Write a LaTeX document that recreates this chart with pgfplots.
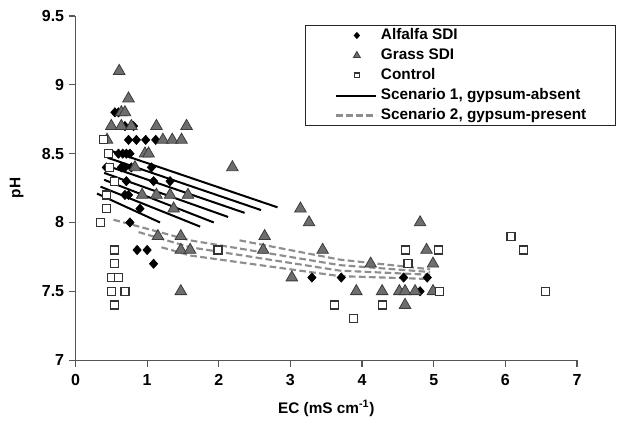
\documentclass[border=0pt]{standalone}
\usepackage{fontspec}
\setmainfont{Liberation Sans}
\usepackage{pgfplots}
\pgfplotsset{compat=1.18}
\definecolor{axgray}{HTML}{555555}
\definecolor{trifill}{HTML}{6E6E6E}
\definecolor{tridraw}{HTML}{3C3C3C}
\definecolor{sqdraw}{HTML}{333333}
\definecolor{dashgray}{HTML}{8E8E8E}
\newcommand{\lbl}{\fontsize{11.5}{13.5}\selectfont\bfseries}
\newcommand{\tkl}{\fontsize{12}{14}\selectfont\bfseries}
\pgfplotsset{
  legmark/.style={legend image code/.code={%
    \path[draw=none, fill=none] (0pt,-3pt) rectangle (33.75pt,3pt);
    \draw[##1, only marks, every mark/.append style={scale=0.6}] plot coordinates {(19.5pt,0pt)};}},
  legline/.style={legend image code/.code={%
    \path[draw=none, fill=none] (0pt,-3pt) rectangle (33.75pt,3pt);
    \draw[##1] (3.75pt,0pt) -- (33.75pt,0pt);}},
  scen1/.style={black, line width=1.5pt, no marks},
  scen2/.style={dashgray, line width=1.6pt, dash pattern=on 5pt off 2.5pt, no marks},
}

\begin{document}
\begin{tikzpicture}
\begin{axis}[name=ax, scale only axis, width=376pt, height=258pt,
  xmin=0, xmax=7, ymin=7, ymax=9.5,
  xtick={0,1,...,7}, ytick={7,7.5,...,9.5},
  axis x line*=bottom, axis y line*=left,
  axis line style={-, draw=axgray, line width=0.9pt},
  tick style={axgray, line width=0.9pt}, tick align=outside, major tick length=5pt,
  /pgf/number format/assume math mode=true,
  tick label style={font=\tkl},
  xticklabel style={yshift=-2pt},
  xlabel={EC (mS cm\textsuperscript{-1})}, ylabel={pH},
  label style={font=\lbl},
  xlabel style={at={(axis description cs:0.5,-0.1395)}, anchor=center},
  ylabel style={at={(axis description cs:-0.117,0.5)}, anchor=center},
  legend style={at={(0.4576,0.974)}, anchor=north west, draw=black!85, line width=0.8pt,
    font=\lbl, inner xsep=19pt, inner ysep=1pt, row sep=2pt,
    nodes={inner xsep=3pt, inner ysep=1pt, text height=8.5pt, text depth=2.5pt}},
  legend cell align=left,
  clip=false]
\addplot[only marks, mark=diamond*, mark size=3.5pt, mark options={black, fill=black, xscale=1.2}, legmark]
  coordinates {(0.55,8.80)(0.60,8.80)
  (0.69,8.70)(0.81,8.70)
  (0.74,8.60)(0.85,8.60)(0.98,8.60)(1.12,8.60)
  (0.60,8.50)(0.66,8.50)(0.71,8.50)(0.76,8.50)
  (0.43,8.40)(0.64,8.40)(0.69,8.40)(0.78,8.40)(1.06,8.40)
  (0.71,8.30)(1.09,8.30)(1.32,8.30)
  (0.69,8.20)(0.74,8.20)
  (0.90,8.10)
  (0.76,8.00)
  (0.86,7.80)(1.00,7.80)
  (1.09,7.70)
  (3.30,7.60)(3.71,7.60)(4.58,7.60)(4.91,7.60)
  (4.81,7.50)};
\addlegendentry{Alfalfa SDI}
\addplot[only marks, mark=triangle*, mark size=5pt, mark options={draw=tridraw, fill=trifill, line width=0.6pt}, legmark]
  coordinates {(0.61,9.10)
  (0.74,8.90)
  (0.64,8.80)(0.69,8.80)
  (0.50,8.70)(0.64,8.70)(0.78,8.70)(1.13,8.70)(1.55,8.70)
  (0.44,8.60)(1.22,8.60)(1.35,8.60)(1.48,8.60)
  (0.97,8.50)(1.02,8.50)
  (0.83,8.40)(2.19,8.40)
  (0.93,8.20)(1.13,8.20)(1.32,8.20)(1.57,8.20)
  (1.37,8.10)
  (1.15,7.90)(1.47,7.90)
  (1.47,7.80)(1.60,7.80)
  (1.47,7.50)
  (3.14,8.10)(3.26,8.00)
  (2.64,7.90)(2.62,7.80)(3.45,7.80)
  (3.02,7.60)
  (4.81,8.00)(4.90,7.80)(4.99,7.70)(4.12,7.70)
  (3.92,7.50)(4.28,7.50)(4.52,7.50)(4.60,7.50)(4.74,7.50)(4.99,7.50)
  (4.60,7.40)};
\addlegendentry{Grass SDI}
\addplot[only marks, mark=square*, mark size=3pt, mark options={draw=sqdraw, fill=white, line width=0.9pt}, legmark]
  coordinates {(0.39,8.60)(0.46,8.50)(0.48,8.40)(0.54,8.30)(0.43,8.20)(0.43,8.10)(0.35,8.00)
  (0.55,7.80)(0.55,7.70)(0.50,7.60)(0.60,7.60)(0.50,7.50)(0.69,7.50)(0.55,7.40)
  (1.99,7.80)
  (3.61,7.40)(3.88,7.30)(4.28,7.40)
  (4.61,7.80)(5.07,7.80)(4.64,7.70)(5.08,7.50)
  (6.08,7.90)(6.25,7.80)(6.56,7.50)};
\addlegendentry{Control}
% Scenario 1 (solid fan)
\addplot[scen1, legline] coordinates {(0.50,8.52) (2.82,8.11)};
\addlegendentry{Scenario 1, gypsum-absent}
\addplot[scen1, forget plot] coordinates {(0.45,8.47) (2.59,8.09)};
\addplot[scen1, forget plot] coordinates {(0.45,8.41) (2.36,8.07)};
\addplot[scen1, forget plot] coordinates {(0.40,8.36) (2.13,8.04)};
\addplot[scen1, forget plot] coordinates {(0.40,8.31) (1.93,8.00)};
\addplot[scen1, forget plot] coordinates {(0.35,8.26) (1.74,7.97)};
\addplot[scen1, forget plot] coordinates {(0.30,8.21) (1.18,8.00)};
% Scenario 2 (dashed)
\addplot[scen2, legline] coordinates {(0.53,8.02) (1.60,7.87) (3.69,7.69) (4.95,7.64)};
\addlegendentry{Scenario 2, gypsum-present}
\addplot[scen2, forget plot] coordinates {(0.88,7.93) (1.60,7.82) (3.69,7.65) (4.95,7.62)};
\addplot[scen2, forget plot] coordinates {(1.20,7.82) (1.60,7.76) (3.69,7.61) (4.90,7.59)};
\addplot[scen2, forget plot] coordinates {(2.29,7.87) (3.69,7.73) (4.95,7.66)};
\end{axis}
\pgfresetboundingbox
\path ([xshift=-56.6pt,yshift=-47.25pt]ax.south west) rectangle ([xshift=31.5pt,yshift=12pt]ax.north east);
\end{tikzpicture}
\end{document}
